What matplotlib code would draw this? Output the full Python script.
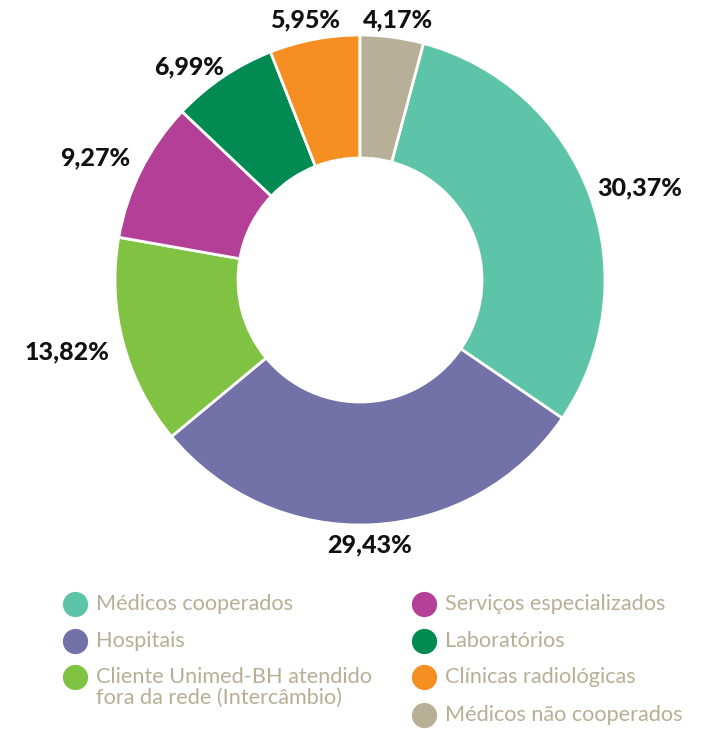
import numpy as np
import matplotlib.pyplot as plt

categories = ['Médicos cooperados', 'Hospitais',
              'Cliente Unimed-BH atendido\nfora da rede (Intercâmbio)',
              'Serviços especializados', 'Laboratórios',
              'Clínicas radiológicas', 'Médicos não cooperados']
values = [30.37, 29.43, 13.82, 9.27, 6.99, 5.95, 4.17]
colors = ['#5ec4a8', '#7271a8', '#80c242', '#b43f96', '#018a52', '#f68f21', '#b8af97']

W, H = 716, 729
# label anchors (pixel coords, y from top)
label_pos = [(640, 188), (370, 545), (67, 352), (95, 158), (189, 67), (305, 20), (398, 20)]
# legend layout: (x of circle, y) in pixels, order matches categories
legend_pos = [(75, 604), (75, 641), (75, 677), (424, 604), (424, 641), (424, 677), (424, 715)]

fig = plt.figure(figsize=(W / 100, H / 100), dpi=100)
ax = fig.add_axes([0, 0, 1, 1])
# the last slice sits right of 12 o'clock, the rest follow clockwise
ax.pie(values, colors=colors, startangle=90 - values[-1] * 3.6, counterclock=False,
       radius=245, center=(360, H - 280),
       wedgeprops=dict(width=123, edgecolor='white', linewidth=2))

for v, (x, y) in zip(values, label_pos):
    ax.text(x, H - y, f'{v:.2f}'.replace('.', ',') + '%', ha='center', va='center',
            fontsize=18, fontweight='black', family='Lato', color='#111111')

for cat, c, (x, y) in zip(categories, colors, legend_pos):
    ax.scatter([x], [H - y], s=330, color=c, linewidths=0)
    for i, line in enumerate(cat.split('\n')):
        ax.text(x + 21, H - y - i * 21, line, ha='left', va='center', fontsize=15.6,
                family='Lato', fontweight='normal', color='#b8ae96')

ax.set_xlim(0, W)
ax.set_ylim(0, H)
ax.set_aspect('auto')
ax.axis('off')
plt.savefig('out.png', dpi=100)
